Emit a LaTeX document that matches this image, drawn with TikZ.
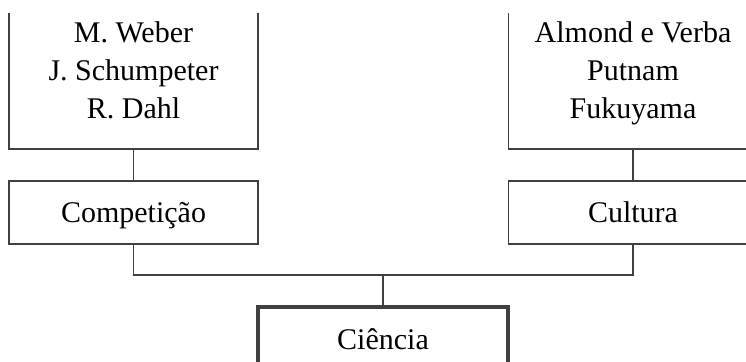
\documentclass[tikz,border=0pt]{standalone}
\usepackage{fontspec}
\setmainfont{Liberation Serif}
\definecolor{linegray}{HTML}{404040}
\begin{document}
\begin{tikzpicture}[x=1pt,y=-1pt,
  every node/.style={font=\fontsize{30}{36}\selectfont, inner sep=0pt, outer sep=0pt},
  openbox/.style={draw=none, minimum width=249pt},
  box/.style={draw=linegray, line width=1.5pt, minimum width=249pt, minimum height=63pt, text height=20pt, text depth=1pt},
  mainbox/.style={draw=linegray, line width=3.3pt, minimum width=250pt, minimum height=65pt, text height=20pt, text depth=1pt},
  conn/.style={draw=linegray, line width=1.5pt},
  nametext/.style={anchor=base}
]
\useasboundingbox (0,0) rectangle (746,361);
\clip (0,0) rectangle (746,361);
% top frames (open at top)
\node[openbox, minimum height=136pt] (wbox) at (133.5,81) {};
\node[openbox, minimum height=136pt] (abox) at (633,81) {};
\draw[conn] (wbox.north west) -- (wbox.south west) -- (wbox.south east) -- (wbox.north east);
\draw[conn] (abox.north west) -- (abox.south west) -- (abox.south east) -- (abox.north east);
% names
\node[nametext] (weber) at (133.5,43) {M. Weber};
\node[nametext] (schum) at (133.5,81) {J. Schumpeter};
\node[nametext] (dahl) at (133.5,118) {R. Dahl};
\node[nametext] (almond) at (633,43) {Almond e Verba};
\node[nametext] (putnam) at (633,81) {Putnam};
\node[nametext] (fuku) at (633,118) {Fukuyama};
% middle boxes
\node[box] (comp) at (133.5,212.5) {Competição};
\node[box] (cult) at (633,212.5) {Cultura};
% bottom box
\node[mainbox] (cien) at (383,339.5) {Ciência};
% connectors
\coordinate (j) at (383,275);
\draw[conn] (wbox.south) -- (comp.north);
\draw[conn] (abox.south) -- (cult.north);
\draw[conn] (comp.south) |- (j) -| (cult.south);
\draw[conn] (j) -- (cien.north);
\end{tikzpicture}
\end{document}
